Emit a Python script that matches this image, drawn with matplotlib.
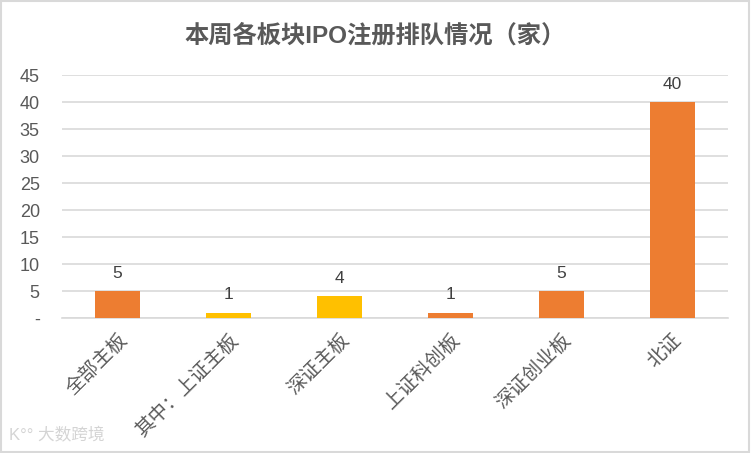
import matplotlib
matplotlib.use("Agg")
import matplotlib.pyplot as plt
from matplotlib.patches import Rectangle

plt.rcParams['font.family'] = ['Liberation Sans', 'Noto Sans CJK SC', 'DejaVu Sans']

categories = ['全部主板', '其中：上证主板', '深证主板', '上证科创板', '深证创业板', '北证']
values = [5, 1, 4, 1, 5, 40]
colors = ['#ED7D31', '#FFC000', '#FFC000', '#ED7D31', '#ED7D31', '#ED7D31']
yticks = [0, 5, 10, 15, 20, 25, 30, 35, 40, 45]
yticklabels = ['-', '5', '10', '15', '20', '25', '30', '35', '40', '45']
title = '本周各板块IPO注册排队情况（家）'

fig = plt.figure(figsize=(7.51, 4.53), dpi=100)
ax = fig.add_axes([0.0826, 0.298, 0.887, 0.536])

x = list(range(len(categories)))
ax.bar(x, values, width=0.4, color=colors, zorder=3)
for xi, v in zip(x, values):
    ax.text(xi, v + 1.9, str(v), ha='center', va='bottom', fontsize=12.5, color='#404040')

ax.set_xlim(-0.5, len(categories) - 0.5)
ax.set_ylim(0, 45)
ax.set_yticks(yticks)
ax.set_yticklabels(yticklabels, fontsize=13, color='#595959')
ax.yaxis.grid(True, color='#D9D9D9', linewidth=1.2, zorder=0)
ax.set_xticks(x)
ax.set_xticklabels(categories, rotation=45, ha='right', rotation_mode='anchor',
                   fontsize=14, color='#595959')
ax.tick_params(axis='x', length=0, pad=9)
ax.tick_params(axis='y', length=0, pad=16)
for s in ['top', 'right', 'left']:
    ax.spines[s].set_visible(False)
ax.spines['bottom'].set_color('#D9D9D9')
ax.spines['bottom'].set_linewidth(1.2)

fig.text(0.5, 0.922, title, ha='center', va='center', fontsize=17.5,
         fontweight='bold', color='#595959')
fig.text(0.012, 0.022, 'K°° 大数跨境', fontsize=12, color='#D4D4D4', ha='left', va='bottom')

fig.patches.append(Rectangle((0.001, 0.002), 0.997, 0.995, transform=fig.transFigure,
                             fill=False, edgecolor='#D9D9D9', linewidth=1.5))

fig.savefig('out.png', dpi=100)
